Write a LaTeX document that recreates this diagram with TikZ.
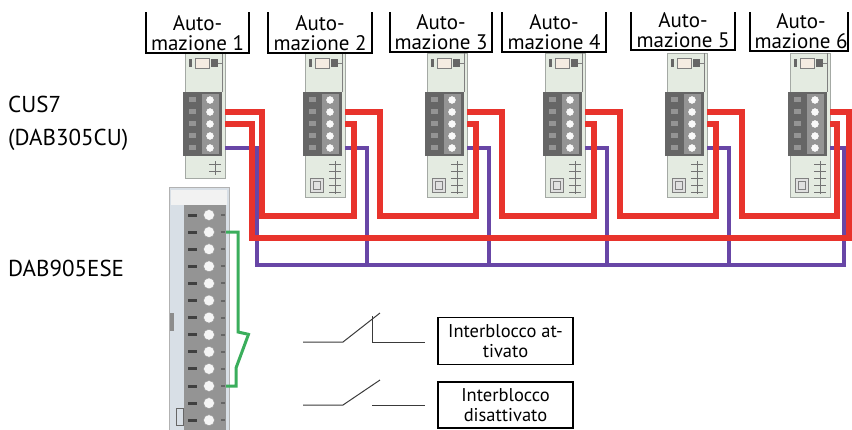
\documentclass[tikz,border=0pt]{standalone}
\usepackage{fontspec}
\setmainfont{PT Sans}
\definecolor{wirered}{HTML}{E8332C}
\definecolor{wirepurple}{HTML}{6846A6}
\definecolor{wiregreen}{HTML}{3AAE5C}
\definecolor{modbody}{HTML}{E4EBE1}
\definecolor{modedge}{HTML}{A4A9A4}
\definecolor{termdark}{HTML}{666666}
\definecolor{termmid}{HTML}{949494}
\definecolor{railbody}{HTML}{D8DFE6}
\definecolor{symline}{HTML}{3A3A3A}
\begin{document}
\begin{tikzpicture}[x=1pt,y=-1pt,
  tag/.style={font=\fontsize{21}{19.5}\selectfont, align=center, inner sep=0pt},
  sidetag/.style={font=\fontsize{23}{26}\selectfont, inner sep=0pt, anchor=base west},
  legend/.style={draw=black, line width=1.2pt, font=\fontsize{18.5}{20.5}\selectfont,
    align=center, minimum width=135pt, minimum height=47pt, inner sep=0pt},
  tagbox/.style={draw=black, line width=1.3pt},
  redwire/.style={draw=wirered, line width=5.5pt},
  purplewire/.style={draw=wirepurple, line width=4.5pt},
  greenwire/.style={draw=wiregreen, line width=3pt},
  contact/.style={draw=symline, line width=1pt},
]
\useasboundingbox (0,0) rectangle (852,429);

% ---------- CUS7 expansion modules ----------
\foreach \i/\L/\B in {1/185/178,2/305/197,3/427/197,4/545/197,5/667/197,6/790/197}{
  \fill[modbody] (\L,53) rectangle (\L+40,\B);
  \draw[modedge, line width=0.8pt] (\L,53) rectangle (\L+40,\B);
  \draw[gray, line width=0.6pt] (\L+37,53) -- (\L+37,92);
  % status LED / connector on top
  \fill[termdark] (\L+4,59) rectangle (\L+7,67);
  \filldraw[fill=brown!15, draw=gray, line width=0.5pt] (\L+10,58) rectangle (\L+24,68);
  \fill[termdark] (\L+26,59) rectangle (\L+33,67);
  \draw[gray, line width=0.6pt] (\L+33,63) -- (\L+38,63);
  % terminal block
  \fill[termdark] (\L-2,92) rectangle (\L+37,156);
  \fill[termmid] (\L+17,94) rectangle (\L+34,154);
  \foreach \k in {0,...,4}{
    \fill[black!60] (\L+1,95+12*\k) rectangle (\L+14,104+12*\k);
    \fill[termmid] (\L+4,97+12*\k) rectangle (\L+11,102+12*\k);
    \filldraw[fill=white!95!gray, draw=gray, line width=0.4pt] (\L+25,100+12*\k) circle (4.2pt);
  }
  % lower pins
  \draw[black!55, line width=0.8pt] (\L+30,161) -- (\L+30,\B-3);
  \foreach \y in {164,171}{ \draw[black!55, line width=0.8pt] (\L+24,\y) -- (\L+36,\y); }
  \ifnum\i>1
    \foreach \y in {178,185,192}{ \draw[black!55, line width=0.8pt] (\L+24,\y) -- (\L+36,\y); }
    \filldraw[fill=black!12, draw=black!50, line width=0.8pt] (\L+5,178) rectangle (\L+18,192);
    \draw[black!50, line width=0.6pt] (\L+8,181) rectangle (\L+15,189);
  \fi
  \coordinate (m\i-t) at (\L+40,112);
  \coordinate (m\i-m) at (\L+40,124);
  \coordinate (m\i-p) at (\L+40,148);
}

% ---------- DAB905ESE ----------
\filldraw[fill=railbody, draw=black!30, line width=0.8pt] (169,187) rectangle (229,432);
\fill[black!5] (171,190) rectangle (227,205);
\fill[termmid] (184,205) rectangle (226,432);
\fill[black!45] (170,313) rectangle (174,331);
\draw[black!60, line width=0.8pt] (176,408) rectangle (183,425);
\foreach \k in {0,...,12}{
  \fill[black!75] (188,213.5+17.1*\k) rectangle (197,216.5+17.1*\k);
  \fill[black!60] (221,214+17.1*\k) rectangle (225,216+17.1*\k);
  \filldraw[fill=white!92!gray, draw=black!40, line width=0.5pt] (209,215+17.1*\k) circle (5.5pt);
}
\coordinate (g-top) at (226,232);
\coordinate (g-bot) at (226,386);

% ---------- wiring ----------
% purple bus
\draw[purplewire] (m1-p) -| (257,265) -- (844,265) |- (m6-p);
\draw[purplewire] (m2-p) -| (367,265);
\draw[purplewire] (m3-p) -| (489,265);
\draw[purplewire] (m4-p) -| (607,265);
\draw[purplewire] (m5-p) -| (729,265);
% red ring bus
\draw[redwire] (m1-m) -| (252,238) -- (849,238) |- (m6-t);
% red loops between neighbouring modules
\draw[redwire] (m1-t) -| (262,216) -| (354,124) -- (m2-m);
\draw[redwire] (m2-t) -| (380,216) -| (476,124) -- (m3-m);
\draw[redwire] (m3-t) -| (502,216) -| (594,124) -- (m4-m);
\draw[redwire] (m4-t) -| (620,216) -| (716,124) -- (m5-m);
\draw[redwire] (m5-t) -| (742,216) -| (837,124) -- (m6-m);
% green interlock contact
\draw[greenwire] (g-top) -| (238,332) -- (247,334);
\draw[greenwire] (249,333) -- (236,368) |- (g-bot);

% ---------- module tags ----------
\foreach \n/\a/\b/\c/\yb in {1/146/249/197.5/53,2/268/372/320/53,3/390/492/441/52,4/502/606/554/52,5/631/735/683/50,6/750/848/801/51}{
  \draw[tagbox] (\a,12) |- (\b,\yb) -- (\b,12);
  \node[tag] (tag\n) at (\c,\yb-20) {Auto-\\mazione \n};
}

% ---------- side labels ----------
\node[sidetag] (cus) at (8,112) {CUS7};
\node[sidetag] (cusmodel) at (8,145) {(DAB305CU)};
\node[sidetag] (ese) at (8,276) {DAB905ESE};

% ---------- contact symbols and legend ----------
\draw[contact] (303,342) -- (343,342) -- (380,313);
\draw[contact] (372,316) -- (372,342) -- (425,342);
\draw[contact] (303,405) -- (343,405) -- (380,380);
\draw[contact] (372,405) -- (425,405);
\node[legend] (leg-on) at (505.5,341) {Interblocco at-\\tivato};
\node[legend, minimum height=46pt] (leg-off) at (505.5,405) {Interblocco\\disattivato};
\end{tikzpicture}
\end{document}
